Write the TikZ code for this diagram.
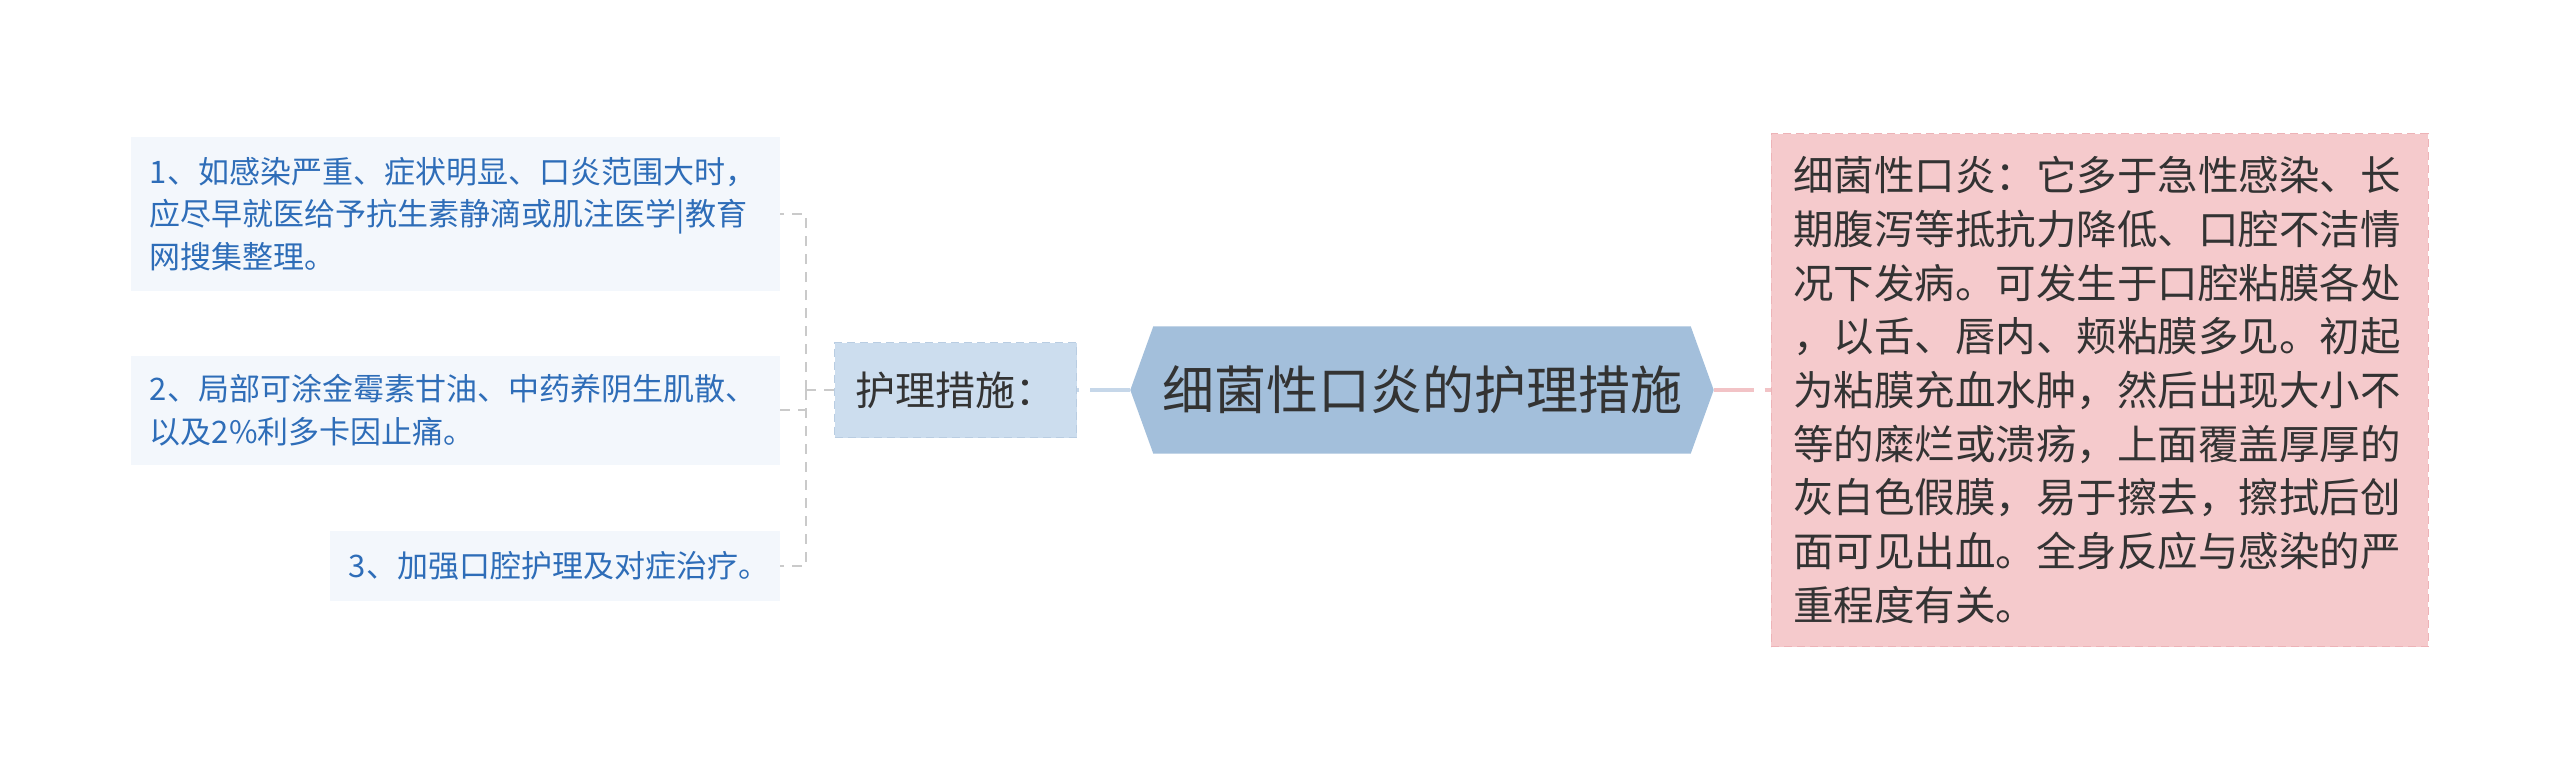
\documentclass[tikz,border=0pt]{standalone}
\usepackage{fontspec}
\setmainfont{Noto Sans CJK SC}
\usetikzlibrary{positioning,backgrounds}

\definecolor{rootblue}{HTML}{A3BFDB}
\definecolor{careblue}{HTML}{CCDDEE}
\definecolor{careedge}{HTML}{B9CDE2}
\definecolor{leaffill}{HTML}{F3F7FC}
\definecolor{leaftext}{HTML}{2E6DB8}
\definecolor{notepink}{HTML}{F5CACC}
\definecolor{noteedge}{HTML}{EDB3B7}
\definecolor{darktext}{HTML}{333333}
\definecolor{bluelink}{HTML}{C6D7E9}
\definecolor{pinklink}{HTML}{F2C3C6}
\definecolor{graylink}{HTML}{CACACA}

\begin{document}
\begin{tikzpicture}[x=1pt,y=-1pt,
    root node/.style={inner sep=0pt,minimum width=537pt,minimum height=127pt,text=darktext,font=\fontsize{52}{62}\selectfont},
    care node/.style={fill=careblue,draw=careedge,line width=1.5pt,dash pattern=on 8pt off 5pt,inner xsep=21pt,minimum width=242pt,minimum height=95pt,text=darktext,font=\fontsize{40}{53}\selectfont},
    leaf node/.style={fill=leaffill,inner xsep=19pt,inner ysep=0pt,align=left,text=leaftext,font=\fontsize{31}{42.5}\selectfont},
    note node/.style={fill=notepink,draw=noteedge,line width=1.5pt,dash pattern=on 8pt off 5pt,inner xsep=22pt,inner ysep=0pt,text width=613pt,minimum height=513pt,align=left,text=darktext,font=\fontsize{40.5}{53.7}\selectfont},
    blue link/.style={draw=bluelink,line width=4pt,dash pattern=on 40pt off 11pt},
    pink link/.style={draw=pinklink,line width=4pt,dash pattern=on 40pt off 11pt},
    leaf link/.style={draw=graylink,line width=2pt,dash pattern=on 10pt off 8pt}]
    \useasboundingbox (0,0) rectangle (2560,780);

    \node[root node] (root) at (1422,390) {细菌性口炎的护理措施};
    \node[care node] (care) [left=76pt of root] {护理措施：};
    \node[note node] (note) [right=80pt of root] {细菌性口炎：它多于急性感染、长\\期腹泻等抵抗力降低、口腔不洁情\\况下发病。可发生于口腔粘膜各处\\，以舌、唇内、颊粘膜多见。初起\\为粘膜充血水肿，然后出现大小不\\等的糜烂或溃疡，上面覆盖厚厚的\\灰白色假膜，易于擦去，擦拭后创\\面可见出血。全身反应与感染的严\\重程度有关。};

    \node[leaf node,text width=611pt,minimum height=154pt,anchor=east] (leaf1) at (780,214) {1、如感染严重、症状明显、口炎范围大时，\\应尽早就医给予抗生素静滴或肌注医学|教育\\网搜集整理。};
    \node[leaf node,text width=611pt,minimum height=109pt,anchor=east] (leaf2) at (780,410) {2、局部可涂金霉素甘油、中药养阴生肌散、\\以及2\%利多卡因止痛。};
    \node[leaf node,text width=412pt,minimum height=70pt,anchor=east] (leaf3) at (780,566) {3、加强口腔护理及对症治疗。};

    \begin{scope}[on background layer]
        \fill[white] (0,0) rectangle (2560,780);
        \fill[rootblue] (root.north west) -- (root.north east) -- ([xshift=23pt]root.east)
            -- (root.south east) -- (root.south west) -- ([xshift=-23pt]root.west) -- cycle;
    \end{scope}
    \coordinate (rootL) at ([xshift=-23pt]root.west);
    \coordinate (rootR) at ([xshift=23pt]root.east);

    \draw[blue link] (rootL) -- (care.east);
    \draw[pink link] (rootR) -- (note.west);

    \draw[leaf link] (care.west) -- ++(-28,0) coordinate (fork);
    \draw[leaf link] (fork) |- (leaf1.east);
    \draw[leaf link] (fork) |- (leaf2.east);
    \draw[leaf link] (fork) |- (leaf3.east);
\end{tikzpicture}
\end{document}
